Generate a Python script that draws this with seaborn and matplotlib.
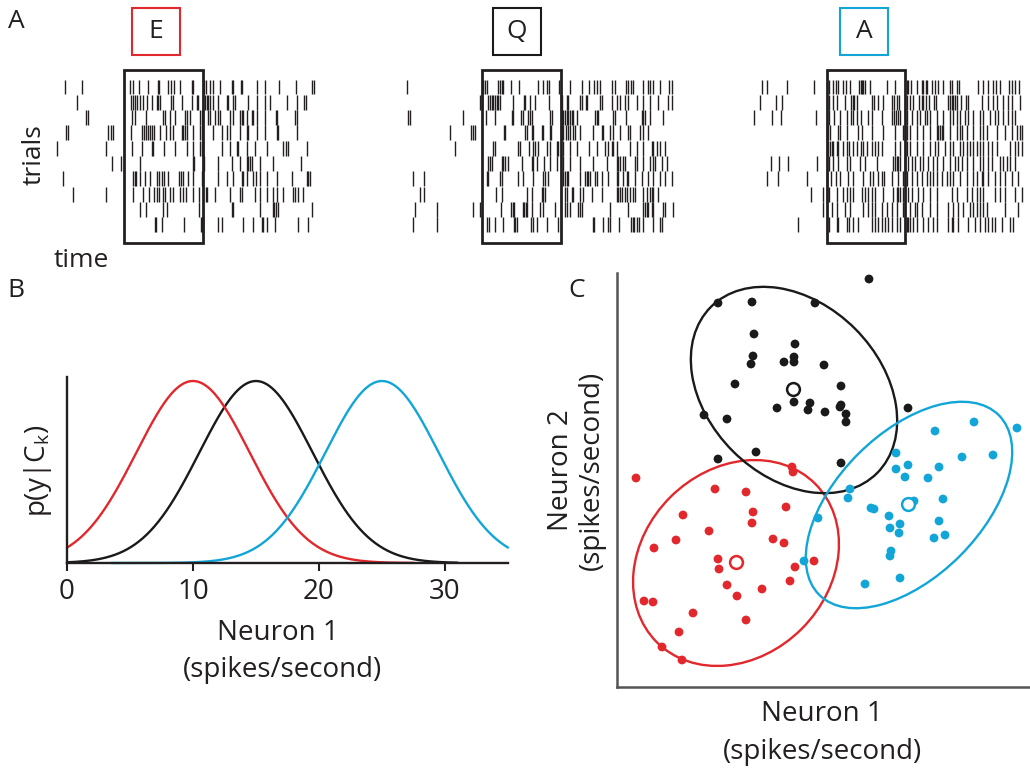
import numpy as np
import pandas as pd
import matplotlib
matplotlib.use("Agg")
import matplotlib.pyplot as plt
import seaborn as sns
from matplotlib.patches import Rectangle, Ellipse

# ---------------- data ----------------
conditions = ["E", "Q", "A"]
cond_colors = {"E": "#e2282c", "Q": "#1a1a1a", "A": "#12a6d8"}
stim_window = (0, 236)  # stimulus window (time units)

spikes_E = [
    [-177, -127, 18, 28, 46, 73, 103, 106, 133, 140, 150, 168, 203, 208, 240, 245, 258, 268, 288, 323, 328, 350, 355, 398, 423, 466, 516, 563, 570],
    [-140, 21, 26, 33, 38, 48, 58, 68, 83, 98, 103, 108, 140, 148, 173, 203, 218, 223, 243, 248, 253, 258, 268, 283, 308, 313, 328, 333, 373, 398, 423, 438, 488, 518, 540, 546],
    [-114, -107, 23, 33, 65, 118, 123, 138, 153, 183, 188, 198, 228, 233, 253, 258, 273, 283, 288, 318, 328, 348, 353, 358, 368, 383, 388, 398, 423, 456, 460, 513, 520],
    [-174, -167, -47, -39, -32, 20, 53, 60, 66, 73, 78, 83, 90, 108, 126, 138, 148, 173, 178, 183, 188, 208, 228, 233, 268, 293, 308, 318, 348, 368, 373, 398, 423, 458, 463, 518],
    [-200, -54, 23, 53, 83, 88, 120, 153, 188, 208, 228, 233, 238, 293, 318, 338, 343, 368, 393, 428, 478, 486, 493, 548],
    [-37, -10, 48, 206, 210, 240, 283, 323, 348, 368, 373, 378, 383, 408, 448, 530],
    [-184, 28, 33, 36, 48, 63, 78, 98, 106, 113, 120, 133, 166, 170, 176, 193, 208, 233, 283, 308, 328, 353, 356, 368, 388, 396, 408, 428, 458, 503, 548, 553, 558],
    [-154, -54, 28, 56, 76, 90, 98, 106, 116, 123, 138, 148, 168, 178, 186, 206, 226, 246, 250, 273, 318, 348, 353, 393, 408, 428, 448, 460, 478, 508, 513, 521, 538],
    [48, 66, 116, 128, 226, 323, 326, 408, 446, 450, 456, 463, 563],
    [93, 96, 113, 180, 230, 233, 238, 283, 293, 356, 386, 413, 418, 428, 453, 523, 553],
]
spikes_Q = [
    [-225, 3, 8, 15, 48, 53, 58, 63, 85, 111, 166, 183, 193, 201, 231, 263, 298, 321, 336, 343, 353, 388, 398, 431, 438, 445, 451, 481, 498, 503, 513, 533, 561, 568],
    [-7, -2, 18, 23, 28, 33, 38, 43, 48, 53, 93, 125, 128, 143, 158, 201, 235, 238, 253, 258, 293, 298, 311, 315, 353, 358, 388, 403, 413, 428, 438, 463, 483, 503, 528, 558, 568],
    [-222, -217, -57, 11, 38, 88, 93, 115, 123, 138, 143, 148, 203, 208, 238, 243, 248, 253, 258, 263, 268, 273, 283, 338, 343, 348, 393, 398, 431, 478, 483, 488, 503, 543],
    [-97, -35, -29, -22, 65, 68, 128, 133, 148, 151, 178, 181, 203, 205, 235, 238, 243, 251, 258, 263, 271, 278, 293, 333, 358, 363, 383, 393, 413, 438, 443, 473, 483, 498],
    [-82, 33, 38, 108, 113, 141, 151, 158, 168, 193, 203, 223, 228, 243, 263, 283, 321, 343, 368, 378, 388, 393, 403, 443, 463, 481, 508, 513, 523, 533, 548],
    [18, 23, 28, 58, 63, 68, 78, 118, 148, 153, 163, 185, 203, 223, 243, 263, 293, 333, 373, 403, 408, 413, 423, 428, 458, 463, 483, 503, 511, 518, 538, 553],
    [-209, -175, 13, 18, 53, 58, 108, 123, 153, 183, 188, 198, 243, 248, 253, 258, 293, 308, 313, 318, 323, 338, 343, 358, 378, 403, 408, 423, 433, 438, 458, 478, 498, 513, 533, 548, 568],
    [-187, -175, 41, 58, 133, 148, 178, 183, 188, 248, 253, 268, 273, 293, 303, 328, 358, 403, 408, 413, 418, 428, 433, 443, 451, 458, 483, 493, 503, 508, 513, 528],
    [-202, -137, -29, -7, 55, 85, 91, 95, 121, 125, 131, 135, 148, 173, 183, 218, 248, 253, 263, 288, 293, 298, 383, 438, 483, 488, 493, 498, 508, 513, 543, 548, 571],
    [-209, -135, 13, 21, 38, 61, 95, 98, 103, 145, 151, 163, 193, 228, 331, 335, 363, 378, 383, 411, 445, 451, 455, 463, 471, 483, 511, 533, 538],
]
spikes_A = [
    [-195, -180, -120, -38, 8, 20, 28, 35, 50, 58, 70, 98, 102, 105, 110, 115, 130, 180, 205, 240, 245, 252, 270, 285, 290, 298, 302, 315, 325, 335, 350, 370, 375, 390, 398, 455, 470, 483, 500, 508, 520, 548, 555, 565, 578],
    [-200, -152, -135, 8, 20, 30, 55, 72, 78, 82, 90, 135, 142, 155, 170, 195, 202, 210, 218, 240, 250, 258, 278, 285, 290, 298, 308, 322, 328, 365, 370, 375, 380, 385, 390, 402, 418, 425, 465, 485, 500, 510, 530, 545, 555, 580],
    [-218, -165, -138, -32, 8, 22, 40, 60, 72, 80, 90, 102, 125, 135, 165, 195, 202, 208, 215, 220, 240, 255, 270, 280, 295, 302, 310, 330, 350, 370, 380, 390, 400, 415, 425, 440, 460, 470, 490, 505, 515, 530, 545, 555, 565],
    [2, 5, 10, 35, 40, 60, 95, 105, 135, 170, 205, 230, 235, 240, 250, 270, 290, 310, 330, 335, 340, 345, 350, 370, 390, 400, 405, 420, 440, 460, 470, 480, 510, 535, 555, 570, 580, 585],
    [5, 10, 15, 20, 30, 35, 50, 60, 68, 80, 90, 102, 110, 120, 135, 145, 155, 165, 205, 220, 240, 250, 270, 290, 310, 325, 335, 355, 370, 380, 400, 410, 420, 430, 440, 450, 460, 470, 485, 495, 510, 550, 565, 575, 585],
    [-168, -142, -115, -28, 8, 18, 35, 60, 70, 100, 115, 150, 200, 205, 210, 215, 220, 235, 245, 255, 265, 280, 290, 305, 320, 330, 350, 370, 385, 395, 405, 420, 440, 460, 470, 485, 495, 520, 530, 540, 550, 565],
    [-178, -145, -60, 2, 12, 28, 40, 65, 80, 110, 130, 140, 155, 165, 172, 195, 215, 230, 240, 255, 270, 285, 300, 310, 320, 330, 345, 360, 370, 380, 400, 420, 440, 452, 465, 470, 485, 505, 520, 535, 555, 575],
    [-48, -12, 2, 8, 30, 50, 60, 70, 80, 105, 115, 125, 135, 145, 168, 200, 210, 215, 220, 230, 245, 255, 275, 290, 310, 330, 375, 390, 420, 435, 450, 460, 470, 505, 520, 535, 565, 585],
    [-12, 15, 32, 55, 70, 110, 125, 135, 145, 165, 180, 195, 210, 230, 250, 265, 270, 285, 310, 330, 365, 380, 395, 410, 430, 440, 450, 460, 470, 480, 535, 575],
    [-85, 8, 30, 35, 60, 68, 80, 95, 135, 145, 155, 165, 175, 185, 195, 210, 220, 240, 245, 250, 258, 270, 290, 305, 320, 330, 365, 375, 380, 395, 425, 445, 460, 475, 485, 495, 505, 525, 550, 560],
]
spike_trains = {"E": spikes_E, "Q": spikes_Q, "A": spikes_A}

# Panel B: class-conditional densities of neuron 1
class_means = {"E": 10, "Q": 15, "A": 25}
class_sd = 4.5
curve_ranges = {"E": (0, 27.5), "Q": (0, 31), "A": (3.5, 35)}
b_xticks = [0, 10, 20, 30]

# Panel C: trials in (neuron 1, neuron 2) space
E_n1 = [1.9, 17.5, 17.6, 9.8, 12.9, 6.6, 13.6, 16.9, 13.5, 9.2, 5.9, 3.7, 15.6, 16.7, 10.1, 10.2, 17.8, 19.7, 17.3, 11.0, 14.5, 12.0, 2.7, 3.6, 7.6, 12.9, 6.2, 4.5, 6.5]
E_n2 = [20.9, 22.0, 21.5, 19.8, 19.5, 17.2, 17.5, 18.0, 16.4, 15.6, 14.7, 13.9, 14.8, 14.4, 12.8, 11.8, 12.0, 12.6, 10.6, 10.2, 9.8, 9.1, 8.6, 8.5, 7.4, 6.7, 5.5, 4.0, 2.7]
Q_n1 = [25.2, 10.1, 13.5, 19.8, 13.7, 17.8, 13.6, 17.7, 16.7, 17.7, 13.4, 20.7, 11.8, 22.4, 17.7, 19.3, 16.0, 19.1, 20.8, 22.3, 22.4, 22.9, 22.9, 29.1, 8.7, 11.0, 13.9, 10.1, 22.4]
Q_n2 = [40.8, 38.4, 38.5, 38.4, 35.3, 34.3, 33.1, 33.0, 32.5, 32.5, 32.3, 32.2, 30.3, 30.1, 28.5, 28.4, 27.9, 27.7, 27.5, 28.0, 28.2, 27.3, 26.5, 27.9, 27.2, 26.8, 23.5, 22.8, 22.4]
A_n1 = [27.9, 29.1, 27.9, 28.8, 32.2, 31.1, 34.5, 37.6, 23.3, 23.1, 25.4, 25.7, 29.7, 32.6, 20.1, 27.2, 27.3, 28.3, 28.2, 32.2, 31.7, 32.8, 27.4, 27.3, 18.7, 24.8, 28.3, 31.8, 35.7, 40.0]
A_n2 = [23.4, 22.2, 21.8, 21.0, 22.0, 20.9, 23.0, 23.2, 19.8, 18.9, 17.9, 17.8, 18.6, 18.8, 16.9, 17.1, 15.9, 16.3, 15.4, 16.6, 14.9, 15.2, 13.6, 13.1, 12.6, 10.3, 10.9, 25.6, 26.5, 25.9]
class_centers = {"E": (11.9, 12.5), "Q": (17.6, 29.8), "A": (29.1, 18.3)}
# confidence ellipses: center, width, height, angle (deg)
class_ellipses = {
    "E": ((11.9, 12.4), 22.4, 18.6, 45),
    "Q": ((17.7, 29.7), 23.5, 17.3, -45),
    "A": ((29.2, 18.2), 25.4, 14.4, 45),
}

# ---------------- style ----------------
sns.set_theme(style="white")
plt.rcParams["font.family"] = ["Open Sans", "DejaVu Sans"]
plt.rcParams["mathtext.fontset"] = "custom"
plt.rcParams["mathtext.rm"] = "Open Sans"
plt.rcParams["mathtext.it"] = "Open Sans:italic"
plt.rcParams["text.color"] = "#231f20"
plt.rcParams["xtick.color"] = "#231f20"

W, H = 1030, 768
fig = plt.figure(figsize=(W / 100, H / 100), dpi=100)


def px_axes(l, t, r, b):
    return fig.add_axes([l / W, 1 - b / H, (r - l) / W, (b - t) / H])


def ftext(x, y, s, **kw):
    kw.setdefault("ha", "center")
    kw.setdefault("va", "center")
    fig.text(x / W, 1 - y / H, s, **kw)


# ---------------- panel A: rasters ----------------
box_left_px = {"E": 124, "Q": 482.3, "A": 826.7}
label_box_px = {"E": 132, "Q": 493, "A": 840}
row_h = 15.3
for cond in conditions:
    bl = box_left_px[cond]
    left = bl - 260 / 3
    ax = px_axes(left, 60, left + 860 / 3, 250)
    ax.eventplot(spike_trains[cond], lineoffsets=np.arange(10), linelengths=0.98,
                 linewidths=1.0, colors="#231f20")
    ax.set_xlim(-260, 600)
    ax.set_ylim((250 - 87) / row_h, (60 - 87) / row_h)
    ax.add_patch(Rectangle((stim_window[0], (70 - 87) / row_h), stim_window[1] - stim_window[0],
                           (243 - 70) / row_h, fill=False, ec="#231f20", lw=2.0, zorder=5))
    ax.axis("off")
    lx = label_box_px[cond]
    fig.add_artist(Rectangle((lx / W, 1 - 55 / H), 48 / W, 47 / H, transform=fig.transFigure,
                             fill=False, ec=cond_colors[cond], lw=1.5))
    ftext(lx + 24, 31.5, cond, fontsize=19)

ftext(16, 21, "A", fontsize=19)
ftext(34, 155, "trials", fontsize=19, rotation=90)
ftext(81, 260, "time", fontsize=19)

# ---------------- panel B: densities ----------------
axB = px_axes(67, 377, 508, 563)
for cond in ["Q", "E", "A"]:
    lo, hi = curve_ranges[cond]
    x = np.linspace(lo, hi, 300)
    y = np.exp(-(x - class_means[cond]) ** 2 / (2 * class_sd ** 2))
    sns.lineplot(x=x, y=y, color=cond_colors[cond], lw=1.7, ax=axB, clip_on=False)
axB.set_xlim(0, 35)
axB.set_ylim(0, 1.022)
for s in ["top", "right"]:
    axB.spines[s].set_visible(False)
for s in ["left", "bottom"]:
    axB.spines[s].set_color("#231f20")
    axB.spines[s].set_linewidth(1.7)
axB.set_xticks(b_xticks)
axB.set_yticks([])
axB.tick_params(axis="x", bottom=True, direction="out", length=6, width=1.5,
                labelsize=20, pad=5, colors="#231f20")
axB.set_xlabel("")
axB.set_ylabel("")
ftext(16, 290, "B", fontsize=19)
ftext(38, 471, r"p(y|C$_\mathrm{k}$)", fontsize=20, rotation=90)
ftext(278, 633, "Neuron 1", fontsize=20)
ftext(282, 670, "(spikes/second)", fontsize=20)

# ---------------- panel C: scatter ----------------
axC = px_axes(617, 273, 1030, 687)
df = pd.concat([
    pd.DataFrame({"n1": E_n1, "n2": E_n2, "cls": "E"}),
    pd.DataFrame({"n1": Q_n1, "n2": Q_n2, "cls": "Q"}),
    pd.DataFrame({"n1": A_n1, "n2": A_n2, "cls": "A"}),
])
for cond in conditions:
    (cx, cy), w, h, ang = class_ellipses[cond]
    axC.add_patch(Ellipse((cx, cy), w, h, angle=ang, fill=False,
                          ec=cond_colors[cond], lw=1.7, zorder=2))
sns.scatterplot(data=df, x="n1", y="n2", hue="cls", palette=cond_colors, s=40,
                linewidth=0, legend=False, ax=axC, zorder=3, clip_on=False)
for cond in conditions:
    cx, cy = class_centers[cond]
    axC.scatter([cx], [cy], s=85, facecolors="white", edgecolors=cond_colors[cond],
                linewidths=1.8, zorder=4)
axC.set_xlim(0, 41.3)
axC.set_ylim(0, 41.4)
axC.set_xticks([])
axC.set_yticks([])
axC.set_xlabel("")
axC.set_ylabel("")
for s in ["top", "right"]:
    axC.spines[s].set_visible(False)
for s in ["left", "bottom"]:
    axC.spines[s].set_color("#555555")
    axC.spines[s].set_linewidth(1.8)
ftext(577, 290, "C", fontsize=19)
ftext(822, 714, "Neuron 1", fontsize=20)
ftext(823, 752, "(spikes/second)", fontsize=20)
ftext(561, 470, "Neuron 2", fontsize=20, rotation=90)
ftext(592, 470, "(spikes/second)", fontsize=20, rotation=90)

fig.savefig("out.png", dpi=100)
